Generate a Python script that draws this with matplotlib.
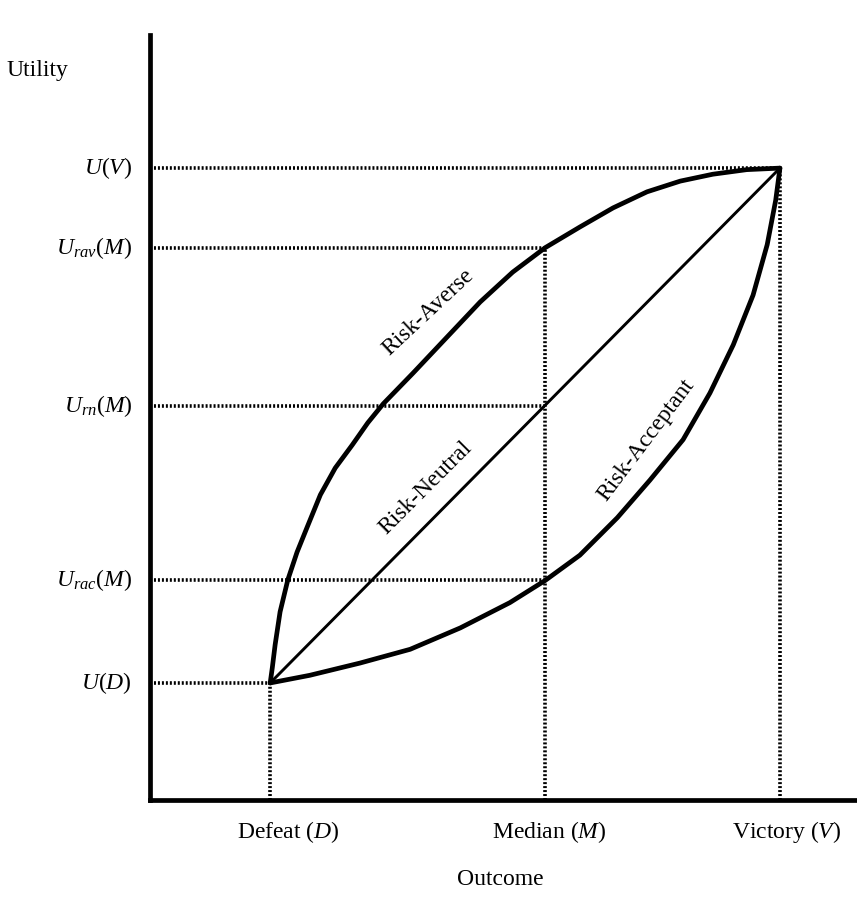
import numpy as np
import matplotlib.pyplot as plt

plt.rcParams['font.family'] = 'Liberation Serif'
plt.rcParams['mathtext.fontset'] = 'custom'
plt.rcParams['mathtext.rm'] = 'Liberation Serif'
plt.rcParams['mathtext.it'] = 'Liberation Serif:italic'

# outcome positions (D, M, V) and utility levels
outcomes = [17.0, 55.9, 89.1]
outcome_labels = ['Defeat ($D$)', 'Median ($M$)', 'Victory ($V$)']
u_D, u_rac, u_rn, u_rav, u_V = 15.3, 28.7, 51.5, 72.2, 82.6

# curves, sampled along the drawn lines
averse_x = [17.0, 17.3, 17.7, 18.4, 19.5, 20.8, 22.2, 24.1, 26.2, 28.6, 30.8, 33.0,
            37.2, 42.0, 46.7, 51.3, 55.9, 60.8, 65.5, 70.3, 75.0, 79.6, 84.4, 89.1]
averse_y = [15.3, 17.3, 20.3, 24.6, 28.8, 32.4, 35.6, 39.9, 43.4, 46.4, 49.3, 51.8,
            55.8, 60.5, 65.1, 69.0, 72.2, 74.9, 77.4, 79.5, 80.9, 81.8, 82.4, 82.6]

accept_x = [17.0, 22.6, 29.7, 36.8, 43.9, 50.9, 55.9, 60.8, 66.1, 70.7, 75.4,
            79.2, 82.5, 85.3, 87.3, 88.5, 89.1]
accept_y = [15.3, 16.3, 17.9, 19.7, 22.5, 25.8, 28.7, 32.0, 36.9, 41.8, 47.1,
            53.2, 59.5, 66.0, 72.6, 78.4, 82.6]

neutral_x = [outcomes[0], outcomes[2]]
neutral_y = [u_D, u_V]

fig = plt.figure(figsize=(8.57, 9.14), dpi=100)
ax = fig.add_axes([150 / 857, 114 / 914, 707 / 857, 765 / 914])
ax.set_xlim(0, 100)
ax.set_ylim(0, 100)

for s in ['top', 'right']:
    ax.spines[s].set_visible(False)
for s in ['left', 'bottom']:
    ax.spines[s].set_linewidth(3.4)
ax.set_xticks([])
ax.set_yticks([])

dot = dict(color='black', lw=2.6, linestyle=(0, (0.55, 0.55)))

# guide lines
ax.plot([0, outcomes[2]], [u_V, u_V], **dot)
ax.plot([0, outcomes[1]], [u_rav, u_rav], **dot)
ax.plot([0, outcomes[1]], [u_rn, u_rn], **dot)
ax.plot([0, outcomes[1]], [u_rac, u_rac], **dot)
ax.plot([0, outcomes[0]], [u_D, u_D], **dot)
ax.plot([outcomes[0], outcomes[0]], [0, u_D], **dot)
ax.plot([outcomes[1], outcomes[1]], [0, u_rav], **dot)
ax.plot([outcomes[2], outcomes[2]], [0, u_V], **dot)

# curves
ax.plot(averse_x, averse_y, color='black', lw=3.4, solid_joinstyle='round', solid_capstyle='round')
ax.plot(accept_x, accept_y, color='black', lw=3.4, solid_joinstyle='round', solid_capstyle='round')
ax.plot(neutral_x, neutral_y, color='black', lw=2.1, solid_capstyle='round')

ax.text(39.3, 63.8, 'Risk-Averse', rotation=43, ha='center', va='center', fontsize=17)
ax.text(39.0, 40.8, 'Risk-Neutral', rotation=45, ha='center', va='center', fontsize=17)
ax.text(70.2, 47.0, 'Risk-Acceptant', rotation=53, ha='center', va='center', fontsize=17)

# y-axis labels
ylabels = [r'$U(V)$', r'$U_{rav}(M)$', r'$U_{rn}(M)$', r'$U_{rac}(M)$', r'$U(D)$']
for lab, y in zip(ylabels, [u_V, u_rav, u_rn, u_rac, u_D]):
    ax.text(-2.5, y, lab, ha='right', va='center', fontsize=17)

# x-axis labels
for lab, x, off in zip(outcome_labels, outcomes, [2.6, 0.5, 0.9]):
    ax.text(x + off, -4.2, lab, ha='center', va='center', fontsize=17)

ax.text(-20.3, 95.3, 'Utility', ha='left', va='center', fontsize=17)
ax.text(49.5, -10.4, 'Outcome', ha='center', va='center', fontsize=17)

for line in ax.lines:
    line.set_clip_on(False)

fig.savefig('out.png', dpi=100)
